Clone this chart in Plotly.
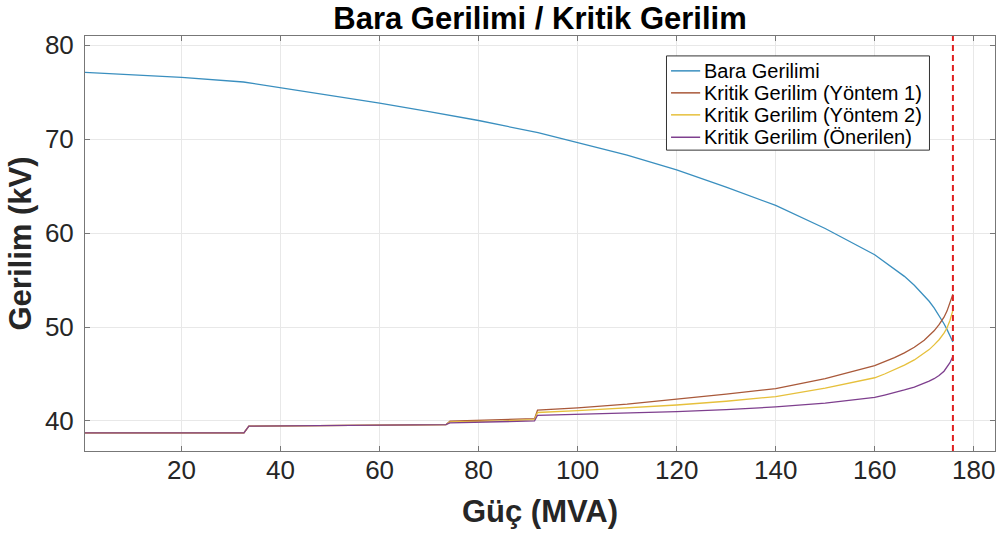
import plotly.graph_objects as go

# ---- data ----
bara_x = [0.5, 10, 20, 32.5, 40, 50, 60, 70, 80, 92, 100, 110, 120, 130, 140,
          150, 160, 162, 164, 166, 168, 170, 171, 172, 173, 174, 174.6, 175.2, 175.8]
bara_y = [77.13, 76.9, 76.6, 76.1, 75.5, 74.7, 73.85, 72.95, 72.0, 70.7, 69.65,
          68.3, 66.75, 64.9, 62.95, 60.5, 57.7, 56.95, 56.2, 55.4, 54.45, 53.35,
          52.75, 52.05, 51.25, 50.35, 49.75, 49.1, 48.4]

krit_x = [0.5, 32.6, 33.6, 50, 73.4, 74.2, 85, 91.3, 91.9, 100, 110, 120, 130,
          140, 150, 160, 162, 164, 166, 168, 170, 171, 172, 173, 174, 174.6, 175.2, 175.8]
krit1_y = [38.72, 38.72, 39.44, 39.5, 39.6, 39.97, 40.1, 40.25, 41.15, 41.4, 41.8,
           42.3, 42.85, 43.45, 44.5, 45.9, 46.3, 46.75, 47.25, 47.85, 48.6, 49.05,
           49.6, 50.25, 51.05, 51.7, 52.5, 53.5]
krit2_y = [38.72, 38.72, 39.44, 39.5, 39.6, 39.9, 40.0, 40.15, 40.9, 41.1, 41.4,
           41.7, 42.1, 42.6, 43.5, 44.6, 45.0, 45.45, 45.95, 46.5, 47.2, 47.6,
           48.1, 48.65, 49.35, 49.9, 50.7, 51.8]
krit3_y = [38.72, 38.72, 39.44, 39.5, 39.6, 39.8, 39.9, 40.0, 40.6, 40.7, 40.85,
           41.0, 41.2, 41.5, 41.9, 42.5, 42.75, 43.0, 43.3, 43.6, 44.0, 44.25,
           44.5, 44.85, 45.3, 45.7, 46.2, 46.9]

kritik_guc = 175.8  # red dashed vertical line

names = ["Bara Gerilimi", "Kritik Gerilim (Yöntem 1)",
         "Kritik Gerilim (Yöntem 2)", "Kritik Gerilim (Önerilen)"]
colors = ["#3a8fbf", "#a9593a", "#e6c03c", "#7e3f8e"]

x_ticks = [20, 40, 60, 80, 100, 120, 140, 160, 180]
y_ticks = [40, 50, 60, 70, 80]

FONT = "Liberation Sans, Arial, sans-serif"

fig = go.Figure()
series = [(bara_x, bara_y), (krit_x, krit1_y), (krit_x, krit2_y), (krit_x, krit3_y)]
for (xs, ys), nm, c in zip(series, names, colors):
    fig.add_trace(go.Scatter(x=xs, y=ys, mode="lines", name=nm, showlegend=False,
                             line=dict(color=c, width=1.3)))

fig.add_vline(x=kritik_guc, line=dict(color="#e02020", width=2, dash="6px,4px"))

# ---- legend box (MATLAB-style), drawn in axes-domain coordinates ----
leg_x0, leg_x1, leg_top, leg_bot = 0.639, 0.928, 0.952, 0.725
fig.add_shape(type="rect", xref="x domain", yref="y domain",
              x0=leg_x0, x1=leg_x1, y0=leg_bot, y1=leg_top,
              line=dict(color="#333333", width=1), fillcolor="white", layer="above")
row_y = [0.916, 0.863, 0.810, 0.756]
for ry, nm, c in zip(row_y, names, colors):
    fig.add_shape(type="line", xref="x domain", yref="y domain",
                  x0=0.644, x1=0.676, y0=ry, y1=ry,
                  line=dict(color=c, width=1.5), layer="above")
    fig.add_annotation(xref="x domain", yref="y domain", x=0.678, y=ry,
                       text=nm, showarrow=False, xanchor="left", yanchor="middle",
                       font=dict(family=FONT, size=20, color="#000000"))

axis_common = dict(showline=True, mirror="ticks", linecolor="#777777", linewidth=1,
                   ticks="inside", ticklen=5, tickcolor="#777777",
                   showgrid=True, gridcolor="#e8e8e8", gridwidth=1, zeroline=False,
                   automargin=False,
                   tickfont=dict(family=FONT, size=26, color="#262626"))

fig.update_layout(
    width=1000, height=534,
    margin=dict(l=85, r=5, t=36, b=83),
    paper_bgcolor="white", plot_bgcolor="white",
    title=dict(text="<b>Bara Gerilimi / Kritik Gerilim</b>", x=0.54, xanchor="center",
               xref="container", yref="container", y=0.966, yanchor="middle",
               font=dict(family=FONT, size=31, color="#000000")),
    xaxis=dict(range=[0.5, 184.3], tickvals=x_ticks, ticklabelstandoff=-4,
               title=dict(text="<b>Güç (MVA)</b>", standoff=16,
                          font=dict(family=FONT, size=31, color="#262626")),
               **axis_common),
    yaxis=dict(range=[36.8, 81.0], tickvals=y_ticks, ticklabelstandoff=5,
               title=dict(text="<b>Gerilim (kV)</b>", standoff=4,
                          font=dict(family=FONT, size=31, color="#262626")),
               **axis_common),
    showlegend=False,
)

fig.write_html("out.html", config={"displayModeBar": False},
               post_script="document.body.style.margin='0';document.body.style.overflow='hidden';")
